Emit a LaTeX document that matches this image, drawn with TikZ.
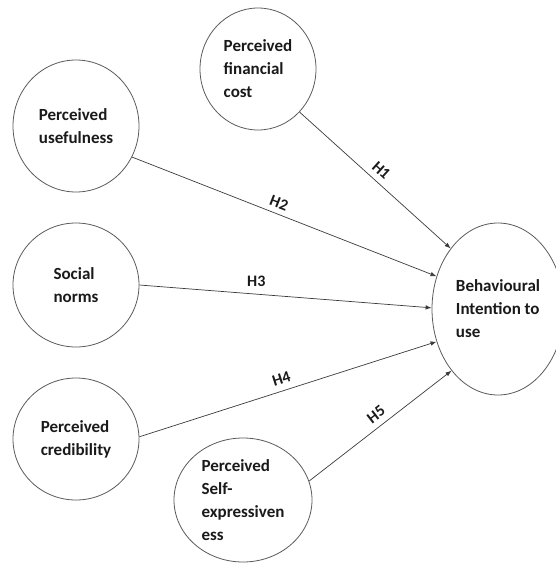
\documentclass[tikz,border=0pt]{standalone}
\usepackage{fontspec}
\setmainfont{Carlito}
\usetikzlibrary{shapes.geometric,arrows.meta}
\definecolor{ringgray}{HTML}{5A5A5A}
\definecolor{linegray}{HTML}{3A3A3A}
\definecolor{inkblack}{HTML}{1A1A1A}
\tikzset{
  ring/.style={ellipse, draw=ringgray, line width=0.8pt, inner sep=0pt, fill=white},
  ringtext/.style={align=left, font=\fontsize{17}{23}\selectfont\bfseries, text=inkblack, inner sep=0pt},
  link/.style={draw=linegray, line width=0.7pt, -{Latex[length=6pt,width=4.5pt]}},
  hyp/.style={font=\fontsize{16}{18}\selectfont\bfseries, text=inkblack, inner sep=1pt}
}
\begin{document}
\begin{tikzpicture}[x=1pt,y=-1pt]
\useasboundingbox (0,0) rectangle (556,565);
% circles
\node[ring, minimum width=116pt, minimum height=122pt] (fc) at (258,69) {};
\node[ring, minimum width=126pt, minimum height=132pt] (pu) at (76,126) {};
\node[ring, minimum width=126pt, minimum height=124pt] (sn) at (76,285) {};
\node[ring, minimum width=126pt, minimum height=122pt] (pc) at (76,439) {};
\node[ring, minimum width=138pt, minimum height=124pt] (se) at (243,500) {};
\node[ring, minimum width=132pt, minimum height=172pt] (bi) at (498,309) {};
% texts
\node[ringtext] (fct) at (fc) {Perceived\\financial\\cost};
\node[ringtext] (put) at (pu) {Perceived\\usefulness};
\node[ringtext] (snt) at (sn) {Social\\norms};
\node[ringtext] (pct) at (pc) {Perceived\\credibility};
\node[ringtext] (set) at (se) {Perceived\\Self-\\expressiven\\ess};
\node[ringtext] (bit) at (bi) {Behavioural\\Intention to\\use};
% connectors
\draw[link] (fc.-46) -- node[hyp, pos=0.49, sloped, above=5pt] (h1) {H1} (bi.128);
\draw[link] (pu.-29) -- node[hyp, pos=0.47, sloped, above=4pt] (h2) {H2} (bi.152);
\draw[link] (sn.0) -- node[hyp, pos=0.40, above=6pt] (h3) {H3} (bi.179);
\draw[link] (pc.2) -- node[hyp, pos=0.49, sloped, above=5pt] (h4) {H4} (bi.208);
\draw[link] (se.16) -- node[hyp, pos=0.52, sloped, above=5pt] (h5) {H5} (bi.233);
\end{tikzpicture}
\end{document}
